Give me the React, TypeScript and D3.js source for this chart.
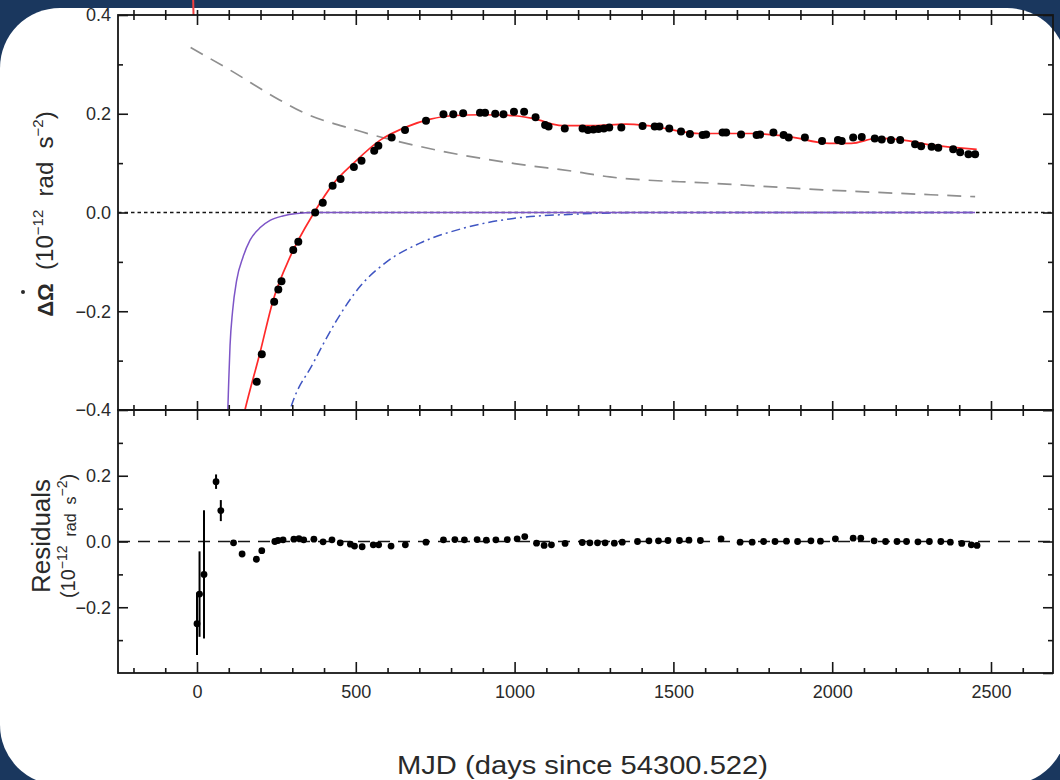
import * as d3 from "d3";
import React, { useRef, useEffect } from "react";

const W = 1060,
  H = 780;
const left = 118,
  right = 1053;

// top panel: observed spin-down change (1e-12 rad s^-2) vs days since glitch
const obsDays = [
  188, 204, 243, 256, 266, 303, 319, 372, 396, 427, 452, 494, 518, 558, 571, 613, 655, 721, 776, 807,
  838, 891, 907, 939, 965, 998, 1030, 1066, 1096, 1107, 1158, 1214, 1231, 1248, 1264, 1281, 1298,
  1336, 1403, 1441, 1456, 1487, 1524, 1552, 1592, 1603, 1655, 1666, 1713, 1762, 1773, 1815, 1847,
  1863, 1914, 1968, 2018, 2030, 2066, 2093, 2134, 2156, 2185, 2214, 2261, 2280, 2313, 2334, 2381,
  2403, 2429, 2450,
];
const obsValues = [
  -0.343, -0.287, -0.181, -0.156, -0.139, -0.076, -0.059, 0.0, 0.02, 0.054, 0.068, 0.092, 0.105,
  0.125, 0.135, 0.152, 0.167, 0.186, 0.199, 0.199, 0.201, 0.202, 0.202, 0.2, 0.199, 0.204, 0.204,
  0.193, 0.177, 0.174, 0.17, 0.17, 0.167, 0.168, 0.169, 0.17, 0.172, 0.172, 0.175, 0.174, 0.174,
  0.17, 0.164, 0.159, 0.157, 0.158, 0.162, 0.162, 0.158, 0.157, 0.158, 0.162, 0.157, 0.152, 0.152,
  0.145, 0.147, 0.145, 0.152, 0.153, 0.15, 0.148, 0.147, 0.147, 0.138, 0.134, 0.133, 0.131, 0.128,
  0.122, 0.118, 0.118,
];

// full model (red)
const fitDays = [140, 151, 198, 240, 293, 367, 430, 493, 578, 662, 735, 800, 900, 1000, 1060, 1150, 1250, 1350, 1420, 1580, 1750, 1860, 1990, 2060, 2140, 2220, 2310, 2455];
const fitValues = [-0.43, -0.4, -0.285, -0.177, -0.09, -0.002, 0.059, 0.1, 0.147, 0.174, 0.189, 0.196, 0.198, 0.196, 0.19, 0.176, 0.176, 0.179, 0.176, 0.16, 0.16, 0.154, 0.14, 0.14, 0.15, 0.147, 0.137, 0.128];

// fast recovery term (purple)
const fastDays = [94, 97, 100, 104, 112, 125, 145, 167, 200, 230, 270, 314, 370, 2450];
const fastValues = [-0.45, -0.4, -0.34, -0.27, -0.2, -0.137, -0.09, -0.056, -0.03, -0.016, -0.007, -0.002, 0, 0];

// slow recovery term (blue dash-dot)
const slowDays = [280, 293, 366, 440, 513, 597, 702, 838, 996, 1206, 1400, 2450];
const slowValues = [-0.43, -0.4, -0.305, -0.218, -0.15, -0.1, -0.062, -0.032, -0.012, -0.003, 0, 0];

// long-term decay term (grey dashed)
const decayDays = [-20, 100, 260, 330, 500, 750, 1000, 1200, 1300, 1630, 1970, 2310, 2450];
const decayValues = [0.334, 0.29, 0.228, 0.204, 0.167, 0.127, 0.099, 0.082, 0.072, 0.059, 0.046, 0.036, 0.032];

// bottom panel: residuals
const resDays = [
  0, 8, 22, 60, 75, 115, 142, 187, 204, 245, 255, 271, 305, 321, 336, 368, 397, 425, 451, 483, 496,
  520, 555, 572, 611, 656, 721, 776, 812, 842, 882, 911, 941, 977, 1008, 1032, 1069, 1093, 1116,
  1159, 1213, 1237, 1261, 1285, 1314, 1339, 1387, 1423, 1453, 1483, 1519, 1549, 1585, 1650, 1710,
  1748, 1784, 1820, 1856, 1891, 1933, 1963, 2010, 2066, 2090, 2132, 2168, 2204, 2234, 2270, 2306,
  2342, 2372, 2408, 2438, 2456,
];
const resValues = [
  -0.25, -0.16, -0.1, 0.182, 0.094, -0.004, -0.038, -0.054, -0.028, 0.0, 0.003, 0.005, 0.007, 0.009,
  0.005, 0.007, -0.001, 0.005, -0.004, -0.008, -0.014, -0.016, -0.01, -0.01, -0.014, -0.01, -0.002,
  0.005, 0.006, 0.005, 0.006, 0.004, 0.005, 0.006, 0.008, 0.015, -0.005, -0.012, -0.01, -0.006,
  -0.003, -0.004, -0.004, -0.004, -0.005, -0.002, 0.0, 0.002, 0.002, 0.003, 0.003, 0.004, 0.003,
  0.008, -0.002, -0.002, 0.0, 0.0, 0.001, 0.0, 0.002, 0.001, 0.008, 0.01, 0.01, 0.002, 0.0, 0.0,
  0.0, -0.001, 0.0, 0.0, -0.002, -0.006, -0.01, -0.012,
];
const resErrors = [0.095, 0.13, 0.195, 0.022, 0.032];

const xMajor = [0, 500, 1000, 1500, 2000, 2500];
const xMinor = [-200, -100, 100, 200, 300, 400, 600, 700, 800, 900, 1100, 1200, 1300, 1400, 1600, 1700, 1800, 1900, 2100, 2200, 2300, 2400, 2600];
const yTopMajor = [-0.4, -0.2, 0, 0.2, 0.4];
const yBotMajor = [-0.2, 0, 0.2];
const yBotEdges = [-0.4, 0.4];
const yMinor = [-0.3, -0.1, 0.1, 0.3];

const font = "'Liberation Sans', Arial, sans-serif";
const ink = "#161616";
const textInk = "#2a2a2a";

function App() {
  const ref = useRef<SVGSVGElement>(null);

  useEffect(() => {
    const svg = d3.select(ref.current);
    svg.selectAll("*").remove();

    const x = d3.scaleLinear().domain([0, 2500]).range([197, 991]);
    const yTop = d3.scaleLinear().domain([-0.4, 0.4]).range([410, 15]);
    const yBot = d3.scaleLinear().domain([-0.4, 0.4]).range([673, 410]);

    svg.append("rect").attr("width", W).attr("height", H).attr("fill", "#1a375e");
    svg.append("rect").attr("x", 0).attr("y", 8).attr("width", 1067).attr("height", 777).attr("rx", 60).attr("fill", "#fff");

    // bit of the red curve from the panel above
    svg.append("line").attr("x1", x(-12)).attr("x2", x(-11)).attr("y1", 0).attr("y2", 15)
      .attr("stroke", "#f04040").attr("stroke-width", 2);

    svg.append("clipPath").attr("id", "clipTop").append("rect")
      .attr("x", left).attr("y", 15).attr("width", right - left).attr("height", 395);

    const line = (ys) => d3.line<[number, number]>().x((d) => x(d[0])).y((d) => ys(d[1])).curve(d3.curveMonotoneX);
    const pairs = (a: number[], b: number[]) => a.map((d, i) => [d, b[i]] as [number, number]);

    const top = svg.append("g").attr("clip-path", "url(#clipTop)");
    top.append("line").attr("x1", left).attr("x2", right).attr("y1", yTop(0)).attr("y2", yTop(0))
      .attr("stroke", ink).attr("stroke-width", 1.6).attr("stroke-dasharray", "3.5,3");
    top.append("path").attr("d", line(yTop)(pairs(decayDays, decayValues))).attr("fill", "none")
      .attr("stroke", "#8f8f8f").attr("stroke-width", 1.7).attr("stroke-dasharray", "14,9");
    top.append("path").attr("d", line(yTop)(pairs(slowDays, slowValues))).attr("fill", "none")
      .attr("stroke", "#3f55c2").attr("stroke-width", 1.5).attr("stroke-dasharray", "9,4,2,4");
    top.append("path").attr("d", line(yTop)(pairs(fastDays, fastValues))).attr("fill", "none")
      .attr("stroke", "#7d55c7").attr("stroke-width", 1.5);
    top.append("path").attr("d", line(yTop)(pairs(fitDays, fitValues))).attr("fill", "none")
      .attr("stroke", "#ff2a2a").attr("stroke-width", 1.7);
    top.selectAll("circle").data(pairs(obsDays, obsValues)).enter().append("circle")
      .attr("cx", (d) => x(d[0])).attr("cy", (d) => yTop(d[1])).attr("r", 4).attr("fill", "#000");

    // residuals
    const bot = svg.append("g");
    bot.append("line").attr("x1", left).attr("x2", right).attr("y1", yBot(0)).attr("y2", yBot(0))
      .attr("stroke", ink).attr("stroke-width", 1.6).attr("stroke-dasharray", "12,8");
    const res = resDays.map((d, i) => ({ d, v: resValues[i], e: resErrors[i] || 0 }));
    bot.selectAll("line.err").data(res.filter((r) => r.e > 0)).enter().append("line").attr("class", "err")
      .attr("x1", (r) => x(r.d)).attr("x2", (r) => x(r.d))
      .attr("y1", (r) => yBot(r.v + r.e)).attr("y2", (r) => yBot(r.v - r.e))
      .attr("stroke", "#000").attr("stroke-width", 2);
    bot.selectAll("circle").data(res).enter().append("circle")
      .attr("cx", (r) => x(r.d)).attr("cy", (r) => yBot(r.v)).attr("r", 3.4).attr("fill", "#000");

    // axes
    const style = (g, size = 18) => {
      g.select(".domain").remove();
      g.selectAll("line").attr("stroke", ink).attr("stroke-width", 1.6);
      g.selectAll("text").attr("font-family", font).attr("font-size", size).attr("fill", textInk);
    };
    const ax = (axis, tx: number, ty: number, size?: number) =>
      svg.append("g").attr("transform", `translate(${tx},${ty})`).call(axis).call((g) => style(g, size));

    const yFmt = d3.format(".1f");
    const none = () => "";
    // top panel left/right
    ax(d3.axisLeft(yTop).tickValues(yTopMajor).tickSize(-10).tickPadding(7).tickFormat(yFmt), left, 0);
    ax(d3.axisLeft(yTop).tickValues(yMinor).tickSize(-5).tickFormat(none), left, 0);
    ax(d3.axisRight(yTop).tickValues(yTopMajor).tickSize(-10).tickFormat(none), right, 0);
    ax(d3.axisRight(yTop).tickValues(yMinor).tickSize(-5).tickFormat(none), right, 0);
    // bottom panel left/right
    ax(d3.axisLeft(yBot).tickValues(yBotMajor).tickSize(-10).tickPadding(7).tickFormat(yFmt), left, 0);
    ax(d3.axisLeft(yBot).tickValues(yMinor).tickSize(-5).tickFormat(none), left, 0);
    ax(d3.axisRight(yBot).tickValues(yBotMajor.concat(yBotEdges)).tickSize(-10).tickFormat(none), right, 0);
    ax(d3.axisRight(yBot).tickValues(yMinor).tickSize(-5).tickFormat(none), right, 0);

    // x ticks: top edge (inward + stubs from panel above), middle boundary, bottom
    ax(d3.axisTop(x).tickValues(xMajor).tickSize(-10).tickFormat(none), 0, 15);
    ax(d3.axisTop(x).tickValues(xMinor).tickSize(-5).tickFormat(none), 0, 15);
    ax(d3.axisTop(x).tickValues(xMajor.concat(xMinor)).tickSize(5).tickFormat(none), 0, 15);
    ax(d3.axisBottom(x).tickValues(xMajor).tickSize(-9).tickFormat(none), 0, 410);
    ax(d3.axisBottom(x).tickValues(xMinor).tickSize(-5).tickFormat(none), 0, 410);
    ax(d3.axisTop(x).tickValues(xMajor).tickSize(-10).tickFormat(none), 0, 410);
    ax(d3.axisTop(x).tickValues(xMinor).tickSize(-6).tickFormat(none), 0, 410);
    ax(d3.axisBottom(x).tickValues(xMajor).tickSize(-11).tickPadding(12).tickFormat(d3.format("d")), 0, 673);
    ax(d3.axisBottom(x).tickValues(xMinor).tickSize(-5).tickFormat(none), 0, 673);

    // frames
    [[15, 410], [410, 673]].forEach(([t, b]) => {
      svg.append("rect").attr("x", left).attr("y", t).attr("width", right - left).attr("height", b - t)
        .attr("fill", "none").attr("stroke", ink).attr("stroke-width", 1.8);
    });

    // titles
    svg.append("text").attr("x", 397).attr("y", 774).attr("font-family", font).attr("font-size", 25)
      .attr("fill", textInk).attr("textLength", 371).attr("lengthAdjust", "spacingAndGlyphs")
      .text("MJD (days since 54300.522)");

    const g1 = svg.append("g").attr("transform", "translate(53,214) rotate(-90)");
    const t1 = g1.append("text").attr("text-anchor", "middle").attr("font-family", font)
      .attr("font-size", 24).attr("fill", textInk).style("white-space", "pre");
    t1.append("tspan").attr("font-weight", "bold").attr("font-size", 22).text("\u0394\u03A9");
    t1.append("tspan").text("  (10");
    t1.append("tspan").attr("font-size", 15).attr("dy", -10).text("\u221212");
    t1.append("tspan").attr("dy", 10).text("  rad  s");
    t1.append("tspan").attr("font-size", 15).attr("dy", -10).text("\u22122");
    t1.append("tspan").attr("dy", 10).text(")");
    // dot over Omega
    const om = (t1.node() as SVGTextElement).getExtentOfChar(1);
    g1.append("circle").attr("cx", om.x + om.width / 2).attr("cy", -30).attr("r", 2).attr("fill", textInk);

    svg.append("text").attr("transform", "translate(50,536) rotate(-90)").attr("text-anchor", "middle")
      .attr("font-family", font).attr("font-size", 26).attr("fill", textInk).text("Residuals");
    const t2 = svg.append("text").attr("transform", "translate(75,536) rotate(-90)")
      .attr("text-anchor", "middle").attr("font-family", font).attr("font-size", 20)
      .attr("fill", textInk).style("white-space", "pre");
    t2.append("tspan").text("(10");
    t2.append("tspan").attr("font-size", 14).attr("dy", -8).text("\u221212");
    t2.append("tspan").attr("font-size", 16).attr("dy", 9).text("  rad  s");
    t2.append("tspan").attr("font-size", 14).attr("dy", -9).text("\u22122");
    t2.append("tspan").attr("dy", 8).text(")");
  }, []);

  return (
    <svg ref={ref} width={W} height={H} style={{ position: "absolute", left: 0, top: 0, display: "block" }}></svg>
  );
}

export default App;
